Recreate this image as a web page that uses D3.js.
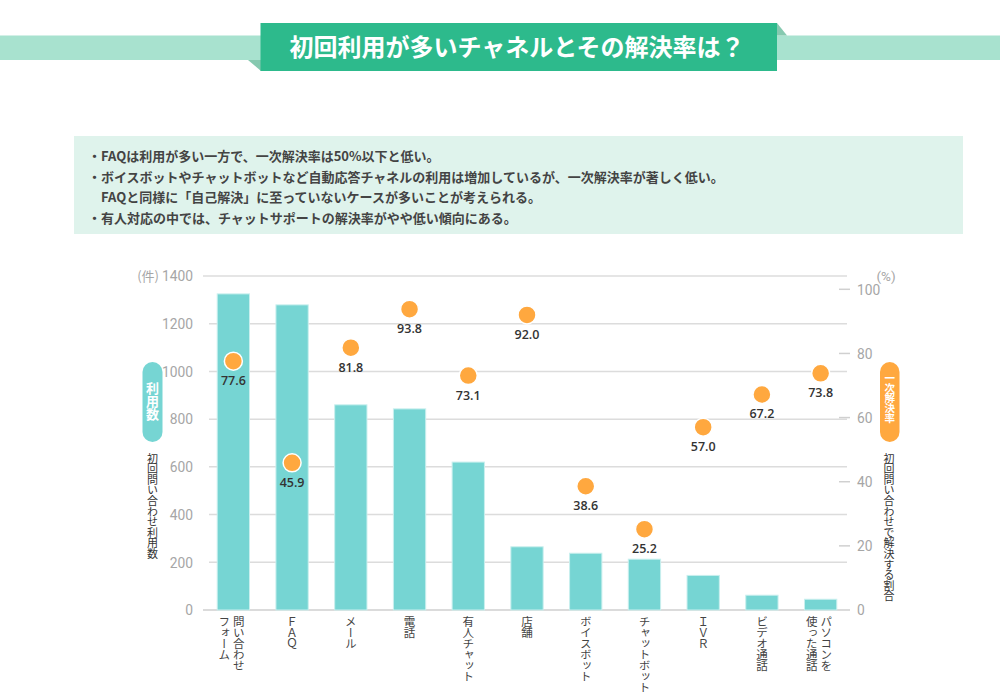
<!DOCTYPE html>
<html><head><meta charset="utf-8">
<script src="https://cdn.jsdelivr.net/npm/d3@7"></script>
<style>
html,body{margin:0;padding:0;background:#fff;}
svg{display:block;font-family:"Noto Sans CJK JP","Noto Sans",sans-serif;}
.vt{writing-mode:vertical-rl;}
</style></head>
<body>
<svg id="c" width="1000" height="694"></svg>
<script>
const titleText = "初回利用が多いチャネルとその解決率は？";
const notes = [
  {bullet:true, text:"FAQは利用が多い一方で、一次解決率は50%以下と低い。"},
  {bullet:true, text:"ボイスボットやチャットボットなど自動応答チャネルの利用は増加しているが、一次解決率が著しく低い。"},
  {bullet:false, text:"FAQと同様に「自己解決」に至っていないケースが多いことが考えられる。"},
  {bullet:true, text:"有人対応の中では、チャットサポートの解決率がやや低い傾向にある。"}
];
const categories = ["問い合わせフォーム","FAQ","メール","電話","有人チャット","店舗","ボイスボット","チャットボット","IVR","ビデオ通話","パソコンを使った通話"];
const categoryLines = [["問い合わせ","フォーム"],["ＦＡＱ"],["メール"],["電話"],["有人チャット"],["店舗"],["ボイスボット"],["チャットボット"],["ＩＶＲ"],["ビデオ通話"],["パソコンを","使った通話"]];
const usage = [1325, 1279, 860, 843, 620, 265, 238, 213, 145, 62, 45];
const rate = [77.6, 45.9, 81.8, 93.8, 73.1, 92.0, 38.6, 25.2, 57.0, 67.2, 73.8];
const leftTicks = [0, 200, 400, 600, 800, 1000, 1200, 1400];
const rightTicks = [0, 20, 40, 60, 80, 100];

const svg = d3.select("#c");

// ---- Title banner
svg.append("rect").attr("x",0).attr("y",35.5).attr("width",1000).attr("height",24.5).attr("fill","#a8e2cf");
svg.append("path").attr("d","M248,60 L261,60 L261,71 Z").attr("fill","#86c9b0");
svg.append("path").attr("d","M777,23 L787,35.5 L777,35.5 Z").attr("fill","#86c9b0");
svg.append("rect").attr("x",260.5).attr("y",23).attr("width",516.5).attr("height",48).attr("fill","#2dba8c");
svg.append("text").attr("x",517).attr("y",56).attr("text-anchor","middle")
  .attr("fill","#fff").attr("font-size",24).attr("font-weight",700).text(titleText);

// ---- Notes box
svg.append("rect").attr("x",74).attr("y",136).attr("width",889).attr("height",98).attr("fill","#dff3ec");
notes.forEach((n,i)=>{
  const y = 161 + i*20.5;
  if(n.bullet) svg.append("text").attr("x",88).attr("y",y).attr("font-size",13).attr("font-weight",700).attr("fill","#444").text("・");
  svg.append("text").attr("x",101).attr("y",y).attr("font-size",13).attr("font-weight",700).attr("fill","#444").text(n.text);
});

// ---- Scales
const x = d3.scaleBand().domain(categories).range([204,850]).paddingInner(0.45).paddingOuter(0.225);
const yL = d3.scaleLinear().domain([0,1400]).range([610,276]);
const yR = d3.scaleLinear().domain([0,100]).range([610,289.3]);

// left axis labels
const gl = d3.axisLeft(yL).tickValues(leftTicks).tickSize(0).tickFormat(d3.format("d"));
const gAxL = svg.append("g").attr("transform","translate(193,0)").call(gl);
gAxL.select(".domain").remove();
gAxL.selectAll("text").attr("font-family","Roboto,'Open Sans',sans-serif").attr("font-size",13.8).attr("fill","#a6a6a6").attr("x",0).attr("dy","0.35em");

// gridlines
svg.append("g").selectAll("line").data(leftTicks).join("line")
  .attr("x1",d=> (d===0||d===1400)?203:209).attr("x2",d=> d===0?850:847)
  .attr("y1",d=>yL(d)).attr("y2",d=>yL(d))
  .attr("stroke",d=>d===0?"#cfcfcf":"#dcdcdc").attr("stroke-width",1.5);

// right axis
const gr = d3.axisRight(yR).tickValues(rightTicks).tickSize(0).tickFormat(d3.format("d"));
const gAxR = svg.append("g").attr("transform","translate(857,0)").call(gr);
gAxR.select(".domain").remove();
gAxR.selectAll("text").attr("font-family","Roboto,'Open Sans',sans-serif").attr("font-size",13.8).attr("fill","#a6a6a6").attr("x",0).attr("dy","0.35em");
svg.append("g").selectAll("line").data(rightTicks.filter(d=>d>0)).join("line")
  .attr("x1",839).attr("x2",850).attr("y1",d=>yR(d)).attr("y2",d=>yR(d))
  .attr("stroke","#d0d0d0").attr("stroke-width",1.5);

// units
svg.append("text").attr("x",159).attr("y",281).attr("text-anchor","end").attr("font-size",13).attr("fill","#a6a6a6").text("(件)");
svg.append("text").attr("x",886).attr("y",281).attr("text-anchor","middle").attr("font-size",13.5).attr("fill","#a6a6a6").attr("font-family","Roboto,sans-serif").text("(%)");

// bars
svg.append("g").selectAll("rect").data(categories).join("rect")
  .attr("x",d=>x(d)).attr("width",x.bandwidth())
  .attr("y",(d,i)=>yL(usage[i])).attr("height",(d,i)=>yL(0)-yL(usage[i]))
  .attr("fill","#76d5d3").attr("stroke","#c9efee").attr("stroke-width",1);

// dots
const cx = d=>x(d)+x.bandwidth()/2;
svg.append("g").selectAll("circle").data(categories).join("circle")
  .attr("cx",cx).attr("cy",(d,i)=>yR(rate[i])).attr("r",9)
  .attr("fill","#ffa83f").attr("stroke","#fff").attr("stroke-width",1.5);
svg.append("g").selectAll("text").data(categories).join("text")
  .attr("x",cx).attr("y",(d,i)=>yR(rate[i])+24).attr("text-anchor","middle")
  .attr("font-family","'Open Sans',sans-serif").attr("font-weight",600).attr("font-size",12.5).attr("fill","#333")
  .text((d,i)=>rate[i].toFixed(1));

// x labels (vertical)
categories.forEach((c,i)=>{
  const lines = categoryLines[i];
  const center = cx(c);
  const offs = lines.length===1 ? [0] : [5.5,-9];
  lines.forEach((ln,j)=>{
    svg.append("text").attr("class","vt").attr("x",center+offs[j]).attr("y",616)
      .attr("font-size",11.5).attr("letter-spacing",-0.6).attr("fill","#444").text(ln);
  });
});

// side pills
svg.append("rect").attr("x",142.5).attr("y",362).attr("width",20).attr("height",80).attr("rx",10).attr("fill","#76d5d3");
svg.append("text").attr("class","vt").attr("x",152.5).attr("y",382).attr("font-size",13).attr("font-weight",700).attr("fill","#fff").text("利用数");
svg.append("text").attr("class","vt").attr("x",152.5).attr("y",453).attr("font-size",11).attr("letter-spacing",-0.4).attr("fill","#333").text("初回問い合わせ利用数");

svg.append("rect").attr("x",880).attr("y",362).attr("width",19.5).attr("height",80).attr("rx",10).attr("fill","#ffa83f");
svg.append("text").attr("class","vt").attr("x",889.7).attr("y",373).attr("font-size",10.5).attr("letter-spacing",-0.5).attr("font-weight",700).attr("fill","#fff").text("一次解決率");
svg.append("text").attr("class","vt").attr("x",889).attr("y",453).attr("font-size",11).attr("letter-spacing",-0.4).attr("fill","#333").text("初回問い合わせで解決する割合");
</script>
</body></html>
